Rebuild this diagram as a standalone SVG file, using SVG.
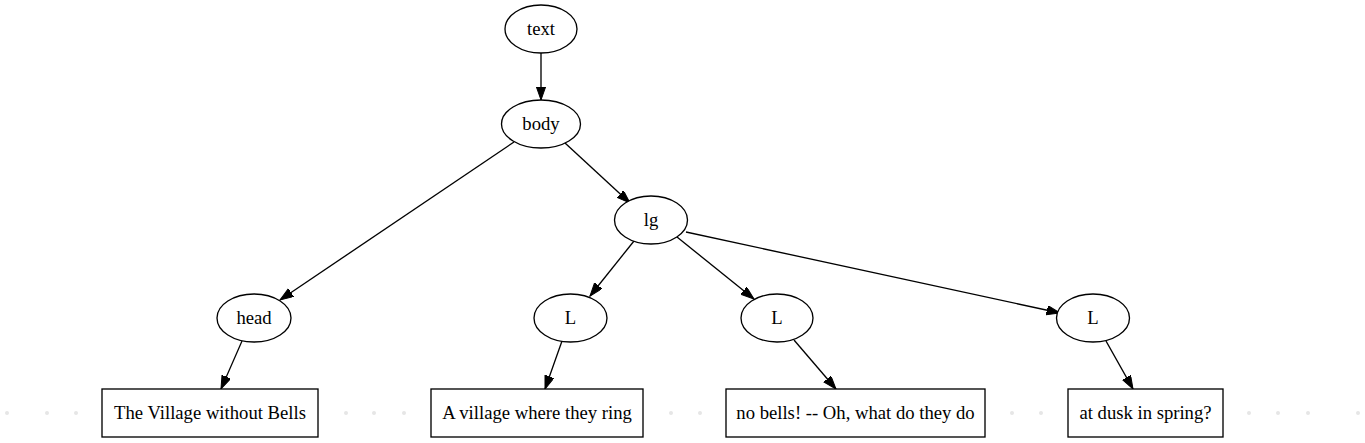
<svg xmlns="http://www.w3.org/2000/svg" width="1365" height="443" viewBox="0 0 1365 443">
<style>
.n{fill:#fff;stroke:#000;stroke-width:1.33}
.t{font-family:"Liberation Serif","Times New Roman",serif;font-size:18.67px;fill:#000;text-anchor:middle}
.e{fill:none;stroke:#000;stroke-width:1.33;marker-end:url(#ah)}
.d{fill:#e6e6e6}
</style>
<defs>
<marker id="ah" markerUnits="userSpaceOnUse" markerWidth="16" markerHeight="12" refX="13.3" refY="4.7" orient="auto">
<path d="M0,0 L13.3,4.7 L0,9.4 Z" fill="#000" stroke="#000" stroke-width="1"/>
</marker>
</defs>
<rect width="1365" height="443" fill="#fff"/>
<g id="dots">
<circle class="d" cx="7" cy="413" r="2"/><circle class="d" cx="47" cy="413" r="2"/><circle class="d" cx="76" cy="413" r="2"/>
<circle class="d" cx="346" cy="413" r="2"/><circle class="d" cx="374" cy="413" r="2"/><circle class="d" cx="404" cy="413" r="2"/>
<circle class="d" cx="671" cy="413" r="2"/><circle class="d" cx="700" cy="413" r="2"/>
<circle class="d" cx="1012" cy="413" r="2"/><circle class="d" cx="1041" cy="413" r="2"/>
<circle class="d" cx="1249" cy="413" r="2"/><circle class="d" cx="1278" cy="413" r="2"/><circle class="d" cx="1308" cy="413" r="2"/><circle class="d" cx="1358" cy="413" r="2"/>
</g>
<g id="edges">
<path class="e" d="M541,53 L541,100"/>
<path class="e" d="M514,142 L280,300"/>
<path class="e" d="M565,143 L630,203"/>
<path class="e" d="M634,241 L590,296"/>
<path class="e" d="M677,237 L754,299"/>
<path class="e" d="M686,232 L1060,313"/>
<path class="e" d="M242,341 L221,389"/>
<path class="e" d="M562,341 L545,389"/>
<path class="e" d="M794,340 L836,389"/>
<path class="e" d="M1106,341 L1133,389"/>
</g>
<g id="text"><ellipse class="n" cx="541" cy="29" rx="36" ry="24"/><text class="t" x="541" y="35">text</text></g>
<g id="body"><ellipse class="n" cx="541" cy="124" rx="39.5" ry="24"/><text class="t" x="541" y="130">body</text></g>
<g id="lg"><ellipse class="n" cx="651" cy="220" rx="36.5" ry="24"/><text class="t" x="651" y="226">lg</text></g>
<g id="head"><ellipse class="n" cx="254" cy="318" rx="37" ry="24"/><text class="t" x="254" y="324">head</text></g>
<g id="L1"><ellipse class="n" cx="570.5" cy="318" rx="36.5" ry="24"/><text class="t" x="570.5" y="324">L</text></g>
<g id="L2"><ellipse class="n" cx="777" cy="318" rx="36" ry="24"/><text class="t" x="777" y="324">L</text></g>
<g id="L3"><ellipse class="n" cx="1093" cy="318" rx="36.5" ry="24"/><text class="t" x="1093" y="324">L</text></g>
<g id="b1"><rect class="n" x="102" y="389" width="216" height="48"/><text class="t" x="210" y="419">The Village without Bells</text></g>
<g id="b2"><rect class="n" x="431" y="389" width="212" height="48"/><text class="t" x="537" y="419">A village where they ring</text></g>
<g id="b3"><rect class="n" x="726" y="389" width="259" height="48"/><text class="t" x="855.5" y="419">no bells! -- Oh, what do they do</text></g>
<g id="b4"><rect class="n" x="1068" y="389" width="155" height="48"/><text class="t" x="1145.5" y="419">at dusk in spring?</text></g>
</svg>
